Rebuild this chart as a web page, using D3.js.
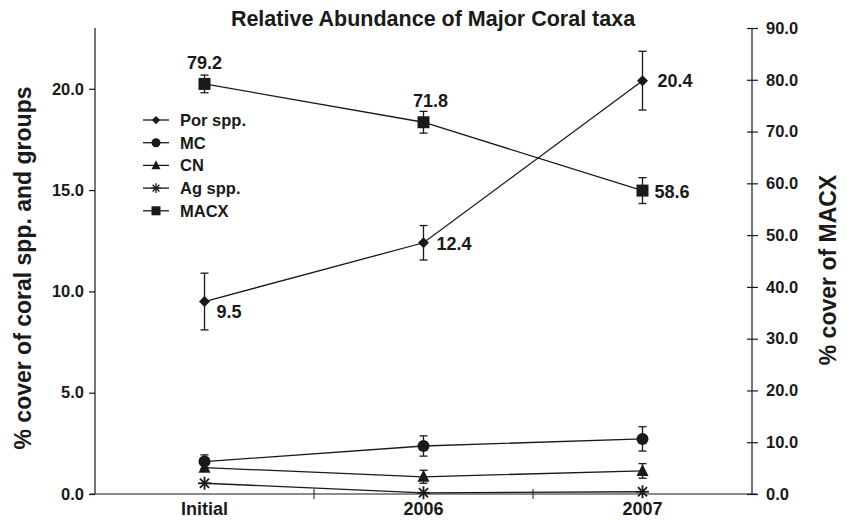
<!DOCTYPE html>
<html><head><meta charset="utf-8">
<script src="https://cdn.jsdelivr.net/npm/d3@7"></script>
<style>
body{margin:0;background:#fff;}
text{font-family:"Liberation Sans",Arial,Helvetica,sans-serif;font-weight:bold;fill:#1a1a1a;}
</style></head>
<body><svg id="c" width="847" height="520"></svg>
<script>
const categories = ["Initial","2006","2007"];
const porVals = [9.5, 12.4, 20.4];
const porErr  = [1.4, 0.85, 1.45];
const mcVals  = [1.6, 2.37, 2.72];
const mcErr   = [0.33, 0.5, 0.6];
const cnVals  = [1.3, 0.85, 1.14];
const cnErr   = [0.0, 0.32, 0.36];
const agVals  = [0.53, 0.06, 0.11];
const agErr   = [0, 0, 0];
const macxVals = [79.2, 71.8, 58.6];
const macxErr  = [1.7, 2.1, 2.5];
const leftTicks = [0,5,10,15,20];
const rightTicks = [0,10,20,30,40,50,60,70,80,90];
const legendNames = ["Por spp.","MC","CN","Ag spp.","MACX"];

const svg = d3.select("#c");
const L=95, R=752, T=28, B=494;
const x = d3.scaleBand().domain(categories).range([L,R]);
const cx = d => x(d)+x.bandwidth()/2;
const yL = d3.scaleLinear().domain([0,23]).range([B,T]);
const yR = d3.scaleLinear().domain([0,90]).range([B,T]);
const ink="#1a1a1a";

// axes
const gl = svg.append("g").attr("transform",`translate(${L},0)`)
  .call(d3.axisLeft(yL).tickValues(leftTicks).tickFormat(d3.format(".1f")).tickSize(6).tickPadding(5));
gl.select(".domain").attr("d",`M0,${T}V${B}`);
const gr = svg.append("g").attr("transform",`translate(${R},0)`)
  .call(d3.axisRight(yR).tickValues(rightTicks).tickFormat(d3.format(".1f")).tickSize(6).tickPadding(8));
gr.selectAll(".tick line").attr("x1",-5);
gr.select(".domain").attr("d",`M0,${T}V${B}`);
const gb = svg.append("g").attr("transform",`translate(0,${B})`)
  .call(d3.axisBottom(x).tickSize(0).tickPadding(8));
gb.select(".domain").attr("d",`M${L-5},0H${R+5}`);
const bounds = [x("2006"), x("2007")];
svg.append("g").selectAll("line").data(bounds).join("line")
  .attr("x1",d=>d).attr("x2",d=>d).attr("y1",B-5).attr("y2",B+5).attr("stroke",ink);
svg.selectAll(".domain, .tick line").attr("stroke",ink).attr("stroke-width",1.2);
gl.selectAll(".tick text").style("font-size","16.5px").attr("fill",ink);
gr.selectAll(".tick text").style("font-size","16.5px").attr("fill",ink);
gb.selectAll(".tick text").style("font-size","18px").attr("fill",ink);

// title & axis titles
svg.append("text").attr("x",433).attr("y",26).attr("text-anchor","middle").style("font-size","21.5px").text("Relative Abundance of Major Coral taxa");
svg.append("text").attr("transform","translate(31,268) rotate(-90)").attr("text-anchor","middle").style("font-size","23px").text("% cover of coral spp. and groups");
svg.append("text").attr("transform","translate(836,270) rotate(-90)").attr("text-anchor","middle").style("font-size","23px").text("% cover of MACX");

const series = [
 {name:"Por spp.", v:porVals, e:porErr, y:yL, m:"diamond"},
 {name:"MC", v:mcVals, e:mcErr, y:yL, m:"circle"},
 {name:"CN", v:cnVals, e:cnErr, y:yL, m:"triangle"},
 {name:"Ag spp.", v:agVals, e:agErr, y:yL, m:"ast"},
 {name:"MACX", v:macxVals, e:macxErr, y:yR, m:"square"}
];

function marker(g, type, px, py){
  if(type==="diamond") g.append("path").attr("d",`M${px},${py-5.5}L${px+5.5},${py}L${px},${py+5.5}L${px-5.5},${py}Z`).attr("fill",ink);
  else if(type==="circle") g.append("circle").attr("cx",px).attr("cy",py).attr("r",6).attr("fill",ink);
  else if(type==="triangle") g.append("path").attr("d",`M${px},${py-7}L${px+6},${py+5}L${px-6},${py+5}Z`).attr("fill",ink);
  else if(type==="square") g.append("rect").attr("x",px-6).attr("y",py-6).attr("width",12).attr("height",12).attr("fill",ink);
  else if(type==="ast"){
    const r=6.5;
    [[0,1],[1,0],[0.7,0.7],[0.7,-0.7]].forEach(([a,b])=>{
      g.append("line").attr("x1",px-a*r).attr("y1",py-b*r).attr("x2",px+a*r).attr("y2",py+b*r).attr("stroke",ink).attr("stroke-width",1.8);
    });
  }
}

const plot = svg.append("g");
series.forEach(s=>{
  const pts = categories.map((c,i)=>[cx(c), s.y(s.v[i])]);
  plot.append("path").attr("d",d3.line()(pts)).attr("fill","none").attr("stroke",ink).attr("stroke-width",1.3);
  categories.forEach((c,i)=>{
    if(s.e[i]>0){
      const xx=cx(c), y1=s.y(s.v[i]+s.e[i]), y2=s.y(s.v[i]-s.e[i]);
      plot.append("line").attr("x1",xx).attr("x2",xx).attr("y1",y1).attr("y2",y2).attr("stroke",ink).attr("stroke-width",1.3);
      [y1,y2].forEach(yy=>plot.append("line").attr("x1",xx-4).attr("x2",xx+4).attr("y1",yy).attr("y2",yy).attr("stroke",ink).attr("stroke-width",1.3));
    }
  });
  categories.forEach((c,i)=>marker(plot,s.m,cx(c),s.y(s.v[i])));
});

// value labels
const lab = svg.append("g").style("font-size","18px");
const porOff = [[12,16,"start"],[13,7,"start"],[15,6,"start"]];
porVals.forEach((v,i)=>lab.append("text").attr("x",cx(categories[i])+porOff[i][0]).attr("y",yL(v)+porOff[i][1]).attr("text-anchor",porOff[i][2]).text(d3.format(".1f")(v)));
const macOff = [[0,-15,"middle"],[7,-15,"middle"],[12,7,"start"]];
macxVals.forEach((v,i)=>lab.append("text").attr("x",cx(categories[i])+macOff[i][0]).attr("y",yR(v)+macOff[i][1]).attr("text-anchor",macOff[i][2]).text(d3.format(".1f")(v)));

// legend
const lg = svg.append("g");
series.forEach((s,i)=>{
  const yy = 120 + i*22.7;
  lg.append("line").attr("x1",143).attr("x2",169).attr("y1",yy).attr("y2",yy).attr("stroke",ink).attr("stroke-width",1.3);
  const g = lg.append("g");
  marker(g, s.m, 156, yy);
  g.selectAll("*").attr("transform",`translate(156,${yy}) scale(0.75) translate(-156,${-yy})`);
  lg.append("text").attr("x",180).attr("y",yy+6).style("font-size","16.5px").text(legendNames[i]);
});
</script></body></html>
